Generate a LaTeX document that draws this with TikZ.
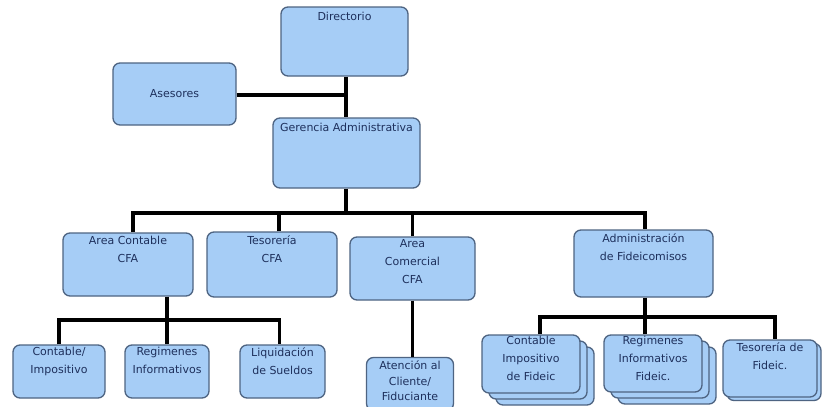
\documentclass[tikz,border=0pt]{standalone}
\usepackage{fontspec}
\setmainfont{DejaVu Sans}
\definecolor{boxfill}{RGB}{166,205,246}
\definecolor{boxdraw}{RGB}{78,100,130}
\definecolor{txtcol}{RGB}{30,48,92}
\tikzset{
  box/.style={draw=boxdraw, fill=boxfill, line width=1.3pt, rounded corners=7pt, inner sep=0pt},
  txt/.style={anchor=north, align=center, inner sep=0pt, text=txtcol, font=\fontsize{11}{18}\selectfont},
  conn/.style={draw=black, line width=3.2pt, line join=miter}
}
\begin{document}
\begin{tikzpicture}[x=1pt,y=-1pt]
\useasboundingbox[fill=white] (0,0) rectangle (825,407);
% boxes
\node[box, minimum width=127pt, minimum height=69pt] (dir) at (344.5,41.5) {};
\node[box, minimum width=123pt, minimum height=62pt] (ase) at (174.5,94) {};
\node[box, minimum width=147pt, minimum height=70pt] (ger) at (346.5,153) {};
\node[box, minimum width=130pt, minimum height=63pt] (ac) at (128,264.5) {};
\node[box, minimum width=130pt, minimum height=65pt] (tes) at (272,264.5) {};
\node[box, minimum width=125pt, minimum height=63pt] (com) at (412.5,268.5) {};
\node[box, minimum width=139pt, minimum height=67pt] (adm) at (643.5,263.5) {};
\node[box, minimum width=92pt, minimum height=53pt] (ci) at (59,371.5) {};
\node[box, minimum width=84pt, minimum height=53pt] (ri) at (167,371.5) {};
\node[box, minimum width=85pt, minimum height=53pt] (ls) at (282.5,371.5) {};
\node[box, minimum width=87pt, minimum height=53pt] (at) at (410,384) {};
% stacked boxes
\node[box, minimum width=98pt, minimum height=58pt] (cf3) at (545,376) {};
\node[box, minimum width=98pt, minimum height=58pt] (cf2) at (538,370) {};
\node[box, minimum width=98pt, minimum height=58pt] (cf) at (531,364) {};
\node[box, minimum width=98pt, minimum height=57pt] (rf3) at (667,375.5) {};
\node[box, minimum width=98pt, minimum height=57pt] (rf2) at (660,369.5) {};
\node[box, minimum width=98pt, minimum height=57pt] (rf) at (653,363.5) {};
\node[box, minimum width=94pt, minimum height=57pt] (tf2) at (774,372) {};
\node[box, minimum width=94pt, minimum height=57pt] (tf) at (770,368.5) {};
% texts
\node[txt] (tdir) at ([yshift=-6pt]dir.north) {Directorio};
\node[txt, anchor=center] (tase) at (ase.center) {Asesores};
\node[txt] (tger) at ([yshift=-6pt]ger.north) {Gerencia Administrativa};
\node[txt] (tac) at ([yshift=-4pt]ac.north) {Area Contable\\CFA};
\node[txt] (ttes) at ([yshift=-4pt]tes.north) {Tesorería\\CFA};
\node[txt] (tcom) at ([yshift=-3pt]com.north) {Area\\Comercial\\CFA};
\node[txt] (tadm) at ([yshift=-4pt]adm.north) {Administración\\de Fideicomisos};
\node[txt] (tci) at ([yshift=-3pt]ci.north) {Contable/\\Impositivo};
\node[txt] (tri) at ([yshift=-3pt]ri.north) {Regimenes\\Informativos};
\node[txt] (tls) at ([yshift=-3pt]ls.north) {Liquidación\\de Sueldos};
\node[txt, font=\fontsize{11}{15.5}\selectfont] (tat) at ([yshift=-4pt]at.north) {Atención al\\Cliente/\\Fiduciante};
\node[txt] (tcf) at ([yshift=-2pt]cf.north) {Contable\\Impositivo\\de Fideic};
\node[txt] (trf) at ([yshift=-2pt]rf.north) {Regimenes\\Informativos\\Fideic.};
\node[txt] (ttf) at ([yshift=-3pt]tf.north) {Tesorería de\\Fideic.};
% connector coordinates
\coordinate (j1) at (346,95);
\coordinate (b1) at (346,213);
\coordinate (b2) at (167,320);
\coordinate (b3) at (645,317);
% connectors
\draw[conn] (dir.south -| j1) -- (ger.north -| j1);
\draw[conn] (ase.east |- j1) -- (j1);
\draw[conn] (ger.south -| b1) -- (b1);
\draw[conn] ([xshift=5pt]ac.north) |- (b1) -| (adm.north -| b3);
\draw[conn] ([xshift=7pt]tes.north) -- ([xshift=7pt]tes.north |- b1);
\draw[conn] (com.north) -- (com.north |- b1);
\draw[conn] (ac.south -| b2) -- (b2);
\draw[conn] (ci.north) |- (b2) -| ([xshift=-3pt]ls.north);
\draw[conn] (ri.north) -- (b2);
\draw[conn] (com.south) -- (com.south |- at.north);
\draw[conn] (adm.south -| b3) -- (b3);
\draw[conn] ([xshift=9pt]cf.north) |- (b3) -| ([xshift=5pt]tf.north);
\draw[conn] (rf.north -| b3) -- (b3);
\end{tikzpicture}
\end{document}
